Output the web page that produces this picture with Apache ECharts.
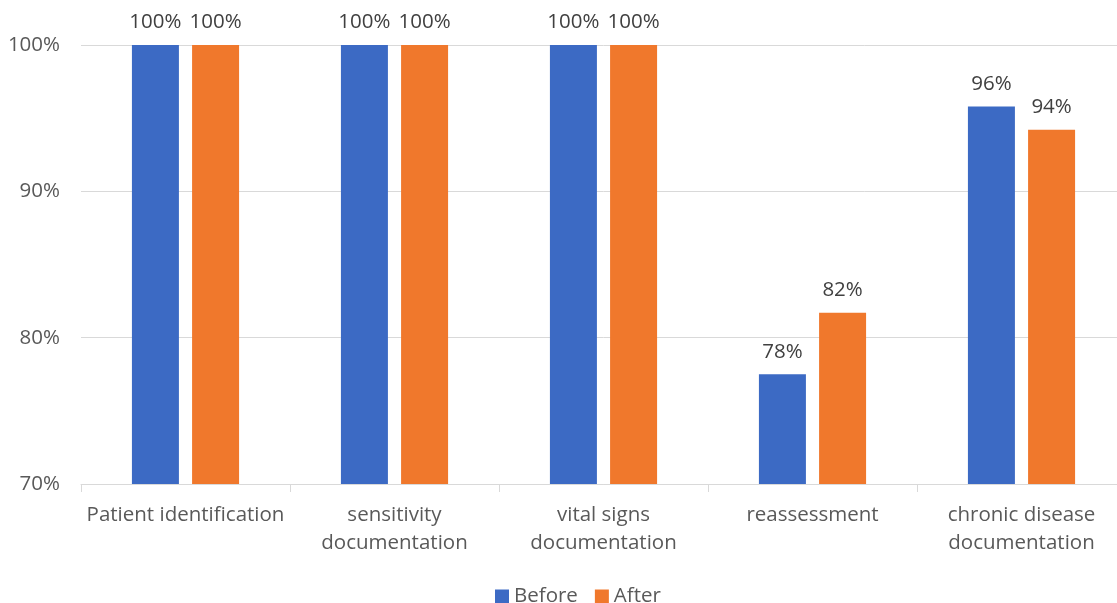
<!DOCTYPE html>
<html><head><meta charset="utf-8">
<script src="https://cdn.jsdelivr.net/npm/echarts@6/dist/echarts.min.js"></script>
<style>html,body{margin:0;padding:0;background:#fff;overflow:hidden}#c{width:1126px;height:603px}</style>
</head><body><div id="c"></div>
<script>
const categories = ["Patient identification", "sensitivity\ndocumentation", "vital signs\ndocumentation", "reassessment", "chronic disease\ndocumentation"];
const seriesNames = ["Before", "After"];
const before = [100, 100, 100, 77.5, 95.8];
const after = [100, 100, 100, 81.7, 94.2];
const yTicks = [70, 80, 90, 100];

const font = "'Open Sans', 'Noto Sans', sans-serif";
const fs = 20.5;
const chart = echarts.init(document.getElementById('c'), null, {renderer: 'canvas'});
const labelCfg = {
  show: true, position: 'top', distance: 12, color: '#404040', fontSize: fs, fontFamily: font,
  formatter: p => Math.round(p.value) + '%'
};
chart.setOption({
  animation: false,
  backgroundColor: '#fff',
  grid: {left: 81, top: 45, right: 0, bottom: 119, containLabel: false},
  legend: {
    top: 581, left: 490, itemWidth: 14, itemHeight: 14, itemGap: 17,
    icon: 'rect', textStyle: {fontSize: fs, color: '#595959', fontFamily: font},
    data: seriesNames
  },
  xAxis: {
    type: 'category', data: categories,
    axisLine: {lineStyle: {color: '#d9d9d9', width: 1}},
    axisTick: {show: true, length: 8, lineStyle: {color: '#d9d9d9'}},
    axisLabel: {color: '#595959', fontSize: fs, fontFamily: font, margin: 17, lineHeight: 28, interval: 0}
  },
  yAxis: {
    type: 'value', min: yTicks[0], max: yTicks[yTicks.length - 1], interval: 10,
    axisLine: {show: false}, axisTick: {show: false},
    splitLine: {lineStyle: {color: '#d9d9d9', width: 1}},
    axisLabel: {color: '#595959', fontSize: fs, fontFamily: font, margin: 21, formatter: v => v + '%'}
  },
  series: [
    {name: seriesNames[0], type: 'bar', data: before, barWidth: 47, barGap: '28%',
     itemStyle: {color: '#3C6AC4'}, label: labelCfg},
    {name: seriesNames[1], type: 'bar', data: after, barWidth: 47,
     itemStyle: {color: '#F0782C'}, label: labelCfg}
  ]
});
</script></body></html>
